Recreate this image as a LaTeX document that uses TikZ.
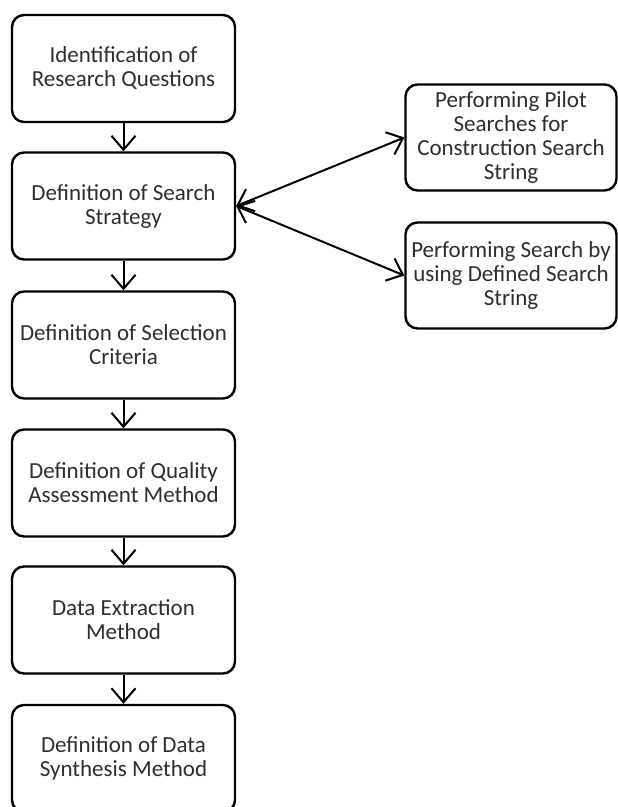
\documentclass[tikz,border=0pt]{standalone}
\usepackage{fontspec}
\setmainfont{Carlito}
\usetikzlibrary{arrows.meta}
\definecolor{txt}{HTML}{2E2E2E}
\tikzset{
  lbox/.style={draw=black, line width=2.4pt, rounded corners=12pt, minimum width=223pt, minimum height=107pt, inner sep=0pt, align=center, text=txt, font=\fontsize{23pt}{24pt}\selectfont},
  rbox/.style={lbox, minimum width=211pt, minimum height=106pt},
  flow/.style={line width=2pt, -{Straight Barb[length=14pt,width=24pt,line width=2pt]}},
  biflow/.style={line width=2pt, {Straight Barb[length=14pt,width=24pt,line width=2pt]}-{Straight Barb[length=14pt,width=24pt,line width=2pt]}}
}
\begin{document}
\begin{tikzpicture}[x=1pt,y=-1pt]
\useasboundingbox (0,0) rectangle (618,807);
\clip (0,0) rectangle (618,807);
\node[lbox] (b1) at (123.5,68.5) {Identification of\\Research Questions};
\node[lbox] (b2) at (123.5,206) {Definition of Search\\Strategy};
\node[lbox] (b3) at (123.5,345) {Definition of Selection\\Criteria};
\node[lbox] (b4) at (123.5,483) {Definition of Quality\\Assessment Method};
\node[lbox] (b5) at (123.5,620) {Data Extraction\\Method};
\node[lbox] (b6) at (123.5,758.5) {Definition of Data\\Synthesis Method};
\node[rbox] (r1) at (511,137.5) {Performing Pilot\\Searches for\\Construction Search\\String};
\node[rbox] (r2) at (511,275.5) {Performing Search by\\using Defined Search\\String};
\draw[flow] (b1) -- (b2);
\draw[flow] (b2) -- (b3);
\draw[flow] (b3) -- (b4);
\draw[flow] (b4) -- (b5);
\draw[flow] (b5) -- (b6);
\draw[biflow] (b2.east) -- (r1.west);
\draw[biflow] (b2.east) -- (r2.west);
\end{tikzpicture}
\end{document}
